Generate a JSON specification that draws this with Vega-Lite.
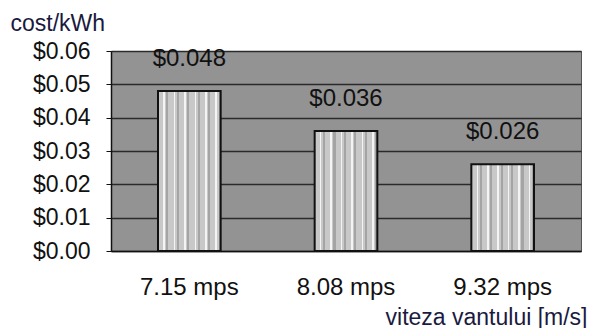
{
  "$schema": "https://vega.github.io/schema/vega-lite/v6.json",
  "autosize": "none",
  "width": 470,
  "height": 200,
  "padding": {"left": 111, "top": 51, "right": 8, "bottom": 77},
  "background": "white",
  "config": {
    "font": "Liberation Sans",
    "view": {"fill": "#939393", "stroke": "#555", "strokeWidth": 1}
  },
  "data": {
    "values": [
      {"speed": "7.15 mps", "cost": 0.048, "label": "$0.048"},
      {"speed": "8.08 mps", "cost": 0.036, "label": "$0.036"},
      {"speed": "9.32 mps", "cost": 0.026, "label": "$0.026"}
    ]
  },
  "encoding": {
    "x": {
      "field": "speed",
      "type": "nominal",
      "sort": null,
      "scale": {"paddingInner": 0.6, "paddingOuter": 0.3},
      "axis": {
        "title": "viteza vantului [m/s]",
        "titleFontSize": 23,
        "titleFontWeight": "normal",
        "titleColor": "#1a1a40",
        "titleAlign": "right",
        "titleAnchor": null,
        "titleX": 476,
        "titleY": 73,
        "titleBaseline": "alphabetic",
        "labelAngle": 0,
        "labelFontSize": 24,
        "labelColor": "#111",
        "labelPadding": 24,
        "ticks": false,
        "domainColor": "#111",
        "domainWidth": 1.5
      }
    },
    "y": {
      "field": "cost",
      "type": "quantitative",
      "scale": {"domain": [0, 0.06], "nice": false},
      "axis": {
        "title": "cost/kWh",
        "titleFontSize": 23,
        "titleFontWeight": "normal",
        "titleColor": "#1a1a40",
        "titleAngle": 0,
        "titleAlign": "left",
        "titleBaseline": "alphabetic",
        "titleX": -101,
        "titleY": -21,
        "values": [0, 0.01, 0.02, 0.03, 0.04, 0.05, 0.06],
        "format": "$.2f",
        "labelFontSize": 23,
        "labelColor": "#111",
        "labelPadding": 16,
        "tickSize": 5,
        "tickColor": "#111",
        "domainColor": "#111",
        "domainWidth": 1.5,
        "grid": true,
        "gridColor": "#2a2a2a",
        "gridWidth": 1.3
      }
    }
  },
  "layer": [
    {
      "mark": {
        "type": "bar",
        "stroke": "#111",
        "strokeWidth": 2,
        "color": {
          "gradient": "linear",
          "x1": 0, "y1": 0, "x2": 1, "y2": 0,
          "stops": [
            {"offset": 0, "color": "#c8c8c8"},
            {"offset": 0.0833, "color": "#c8c8c8"},
            {"offset": 0.0833, "color": "#f4f4f4"},
            {"offset": 0.1083, "color": "#f4f4f4"},
            {"offset": 0.1083, "color": "#c8c8c8"},
            {"offset": 0.1333, "color": "#c8c8c8"},
            {"offset": 0.1333, "color": "#a4a4a4"},
            {"offset": 0.1667, "color": "#a4a4a4"},
            {"offset": 0.1667, "color": "#c8c8c8"},
            {"offset": 0.25, "color": "#c8c8c8"},
            {"offset": 0.25, "color": "#f4f4f4"},
            {"offset": 0.275, "color": "#f4f4f4"},
            {"offset": 0.275, "color": "#c8c8c8"},
            {"offset": 0.3, "color": "#c8c8c8"},
            {"offset": 0.3, "color": "#a4a4a4"},
            {"offset": 0.3333, "color": "#a4a4a4"},
            {"offset": 0.3333, "color": "#c8c8c8"},
            {"offset": 0.4167, "color": "#c8c8c8"},
            {"offset": 0.4167, "color": "#f4f4f4"},
            {"offset": 0.4417, "color": "#f4f4f4"},
            {"offset": 0.4417, "color": "#c8c8c8"},
            {"offset": 0.4667, "color": "#c8c8c8"},
            {"offset": 0.4667, "color": "#a4a4a4"},
            {"offset": 0.5, "color": "#a4a4a4"},
            {"offset": 0.5, "color": "#c8c8c8"},
            {"offset": 0.5833, "color": "#c8c8c8"},
            {"offset": 0.5833, "color": "#f4f4f4"},
            {"offset": 0.6083, "color": "#f4f4f4"},
            {"offset": 0.6083, "color": "#c8c8c8"},
            {"offset": 0.6333, "color": "#c8c8c8"},
            {"offset": 0.6333, "color": "#a4a4a4"},
            {"offset": 0.6667, "color": "#a4a4a4"},
            {"offset": 0.6667, "color": "#c8c8c8"},
            {"offset": 0.75, "color": "#c8c8c8"},
            {"offset": 0.75, "color": "#f4f4f4"},
            {"offset": 0.775, "color": "#f4f4f4"},
            {"offset": 0.775, "color": "#c8c8c8"},
            {"offset": 0.8, "color": "#c8c8c8"},
            {"offset": 0.8, "color": "#a4a4a4"},
            {"offset": 0.8333, "color": "#a4a4a4"},
            {"offset": 0.8333, "color": "#c8c8c8"},
            {"offset": 0.9167, "color": "#c8c8c8"},
            {"offset": 0.9167, "color": "#f4f4f4"},
            {"offset": 0.9417, "color": "#f4f4f4"},
            {"offset": 0.9417, "color": "#c8c8c8"},
            {"offset": 0.9667, "color": "#c8c8c8"},
            {"offset": 0.9667, "color": "#a4a4a4"},
            {"offset": 1, "color": "#a4a4a4"}
          ]
        }
      }
    },
    {
      "mark": {
        "type": "text",
        "fontSize": 24,
        "color": "#111",
        "baseline": "middle",
        "dy": -32
      },
      "encoding": {"text": {"field": "label"}}
    }
  ]
}
